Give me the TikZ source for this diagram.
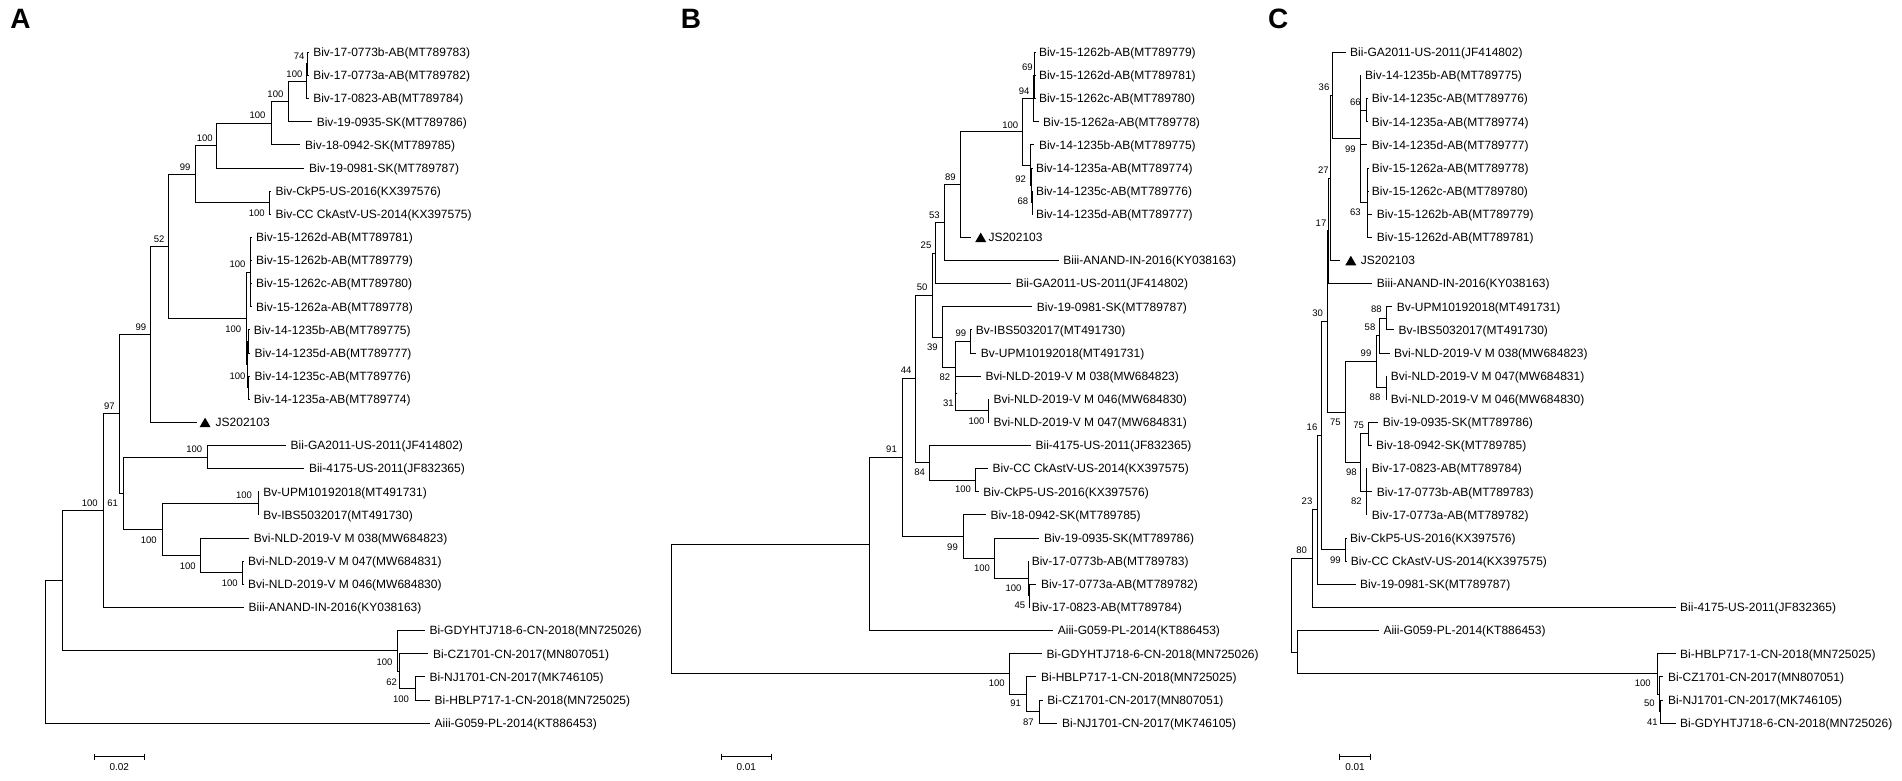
\documentclass[tikz,border=0pt]{standalone}
\usepackage{fontspec}
\setmainfont{Liberation Sans}
\usetikzlibrary{shapes.geometric}
\newcommand\tleaf[5]{\coordinate (#1) at (#2,#3); \node[lf] (#1t) at (#4,#3) {#5};}
\newcommand\tnode[3]{\coordinate (#1) at (#2,#3);}
\newcommand\tkids[2]{\foreach \kid in {#2}{\draw[br] (#1) |- (\kid);}}
\newcommand\bval[4]{\node[bsl] (#1) at (#2,#3) {#4};}
\tikzset{
 br/.style={line width=1pt, black},
 lf/.style={anchor=west, inner sep=0pt, font=\fontsize{12}{12}\selectfont, text height=8.6pt, text depth=0pt},
 bsl/.style={inner sep=0pt, font=\fontsize{9.5}{9.5}\selectfont, text height=6.8pt, text depth=0pt},
 sbl/.style={inner sep=0pt, font=\fontsize{10}{10}\selectfont, text height=7.2pt, text depth=0pt},
 tri/.style={regular polygon, regular polygon sides=3, fill=black, inner sep=0pt, minimum size=12.7pt},
 plet/.style={inner sep=0pt, font=\fontsize{28}{28}\selectfont\bfseries},
 sbar/.style={line width=1pt}
}
\begin{document}
\begin{tikzpicture}[x=1pt,y=-1pt]
\fill[white] (0,0) rectangle (1902,781);
\useasboundingbox (0,0) rectangle (1902,781);

% ================= PANEL A =================
\node[plet] (LA) at (20.6,19.3) {A};
\tleaf{a0}{308.6}{52.3}{313.1}{Biv-17-0773b-AB(MT789783)}
\tleaf{a1}{308.6}{75.4}{313.1}{Biv-17-0773a-AB(MT789782)}
\tleaf{a2}{308.6}{98.6}{313.1}{Biv-17-0823-AB(MT789784)}
\tleaf{a3}{312.1}{121.7}{316.6}{Biv-19-0935-SK(MT789786)}
\tleaf{a4}{300.4}{144.8}{304.9}{Biv-18-0942-SK(MT789785)}
\tleaf{a5}{304.3}{168.0}{308.8}{Biv-19-0981-SK(MT789787)}
\tleaf{a6}{270.9}{191.1}{275.4}{Biv-CkP5-US-2016(KX397576)}
\tleaf{a7}{270.9}{214.2}{275.4}{Biv-CC CkAstV-US-2014(KX397575)}
\tleaf{a8}{252.0}{237.3}{255.9}{Biv-15-1262d-AB(MT789781)}
\tleaf{a9}{252.0}{260.5}{255.9}{Biv-15-1262b-AB(MT789779)}
\tleaf{a10}{252.0}{283.6}{255.9}{Biv-15-1262c-AB(MT789780)}
\tleaf{a11}{252.0}{306.7}{255.9}{Biv-15-1262a-AB(MT789778)}
\tleaf{a12}{249.6}{329.9}{253.7}{Biv-14-1235b-AB(MT789775)}
\tleaf{a13}{250.0}{353.0}{254.5}{Biv-14-1235d-AB(MT789777)}
\tleaf{a14}{250.0}{376.1}{254.5}{Biv-14-1235c-AB(MT789776)}
\tleaf{a15}{249.6}{399.3}{253.7}{Biv-14-1235a-AB(MT789774)}
\coordinate (a16) at (197.3,422.4);
\node[tri] (a16m) at (205.1,424.0) {};
\node[lf] (a16t) at (215.5,422.4) {JS202103};
\tleaf{a17}{286.0}{445.5}{290.5}{Bii-GA2011-US-2011(JF414802)}
\tleaf{a18}{304.3}{468.6}{308.8}{Bii-4175-US-2011(JF832365)}
\tleaf{a19}{259.2}{491.8}{263.2}{Bv-UPM10192018(MT491731)}
\tleaf{a20}{259.2}{514.9}{263.2}{Bv-IBS5032017(MT491730)}
\tleaf{a21}{249.2}{538.0}{253.7}{Bvi-NLD-2019-V M 038(MW684823)}
\tleaf{a22}{244.0}{561.2}{248.0}{Bvi-NLD-2019-V M 047(MW684831)}
\tleaf{a23}{244.0}{584.3}{248.0}{Bvi-NLD-2019-V M 046(MW684830)}
\tleaf{a24}{244.0}{607.4}{248.5}{Biii-ANAND-IN-2016(KY038163)}
\tleaf{a25}{424.8}{630.6}{429.3}{Bi-GDYHTJ718-6-CN-2018(MN725026)}
\tleaf{a26}{428.3}{653.7}{432.8}{Bi-CZ1701-CN-2017(MN807051)}
\tleaf{a27}{424.8}{676.8}{429.3}{Bi-NJ1701-CN-2017(MK746105)}
\tleaf{a28}{430.0}{700.0}{434.5}{Bi-HBLP717-1-CN-2018(MN725025)}
\tleaf{a29}{430.0}{723.1}{434.5}{Aiii-G059-PL-2014(KT886453)}

\tnode{n74}{307.5}{63.9}
\tnode{nA100a}{306.5}{81.3}
\tnode{nA100b}{288.4}{101.5}
\tnode{nA100c}{271.0}{123.2}
\tnode{nA100d}{216.8}{145.6}
\tnode{nA100e}{269.7}{202.65}
\tnode{nA99a}{195.6}{174.1}
\tnode{nA15}{250.7}{272.0}
\tnode{nA14ab}{248.5}{341.45}
\tnode{nA14cd}{248.5}{387.7}
\tnode{nA14}{247.5}{364.6}
\tnode{nA1415}{246.3}{318.3}
\tnode{nA52}{168.3}{246.2}
\tnode{nA99b}{150.9}{334.3}
\tnode{nABii}{207.3}{457.05}
\tnode{nABv}{258.0}{503.35}
\tnode{nABvi2}{242.8}{572.75}
\tnode{nABvi}{200.8}{555.4}
\tnode{nABvBvi}{162.6}{529.4}
\tnode{nA61}{123.6}{493.2}
\tnode{nA97}{119.3}{413.75}
\tnode{nA100r}{103.2}{510.6}
\tnode{nANJH}{415.4}{688.4}
\tnode{nA62}{399.0}{671.05}
\tnode{nABi}{397.7}{650.8}
\tnode{nA100s}{62.9}{580.7}
\tnode{nArootA}{45.5}{651.9}

\tkids{n74}{a0,a1}
\tkids{nA100a}{n74,a2}
\tkids{nA100b}{nA100a,a3}
\tkids{nA100c}{nA100b,a4}
\tkids{nA100d}{nA100c,a5}
\tkids{nA100e}{a6,a7}
\tkids{nA99a}{nA100d,nA100e}
\tkids{nA15}{a8,a9,a10,a11}
\tkids{nA14ab}{a12,a13}
\tkids{nA14cd}{a14,a15}
\tkids{nA14}{nA14ab,nA14cd}
\tkids{nA1415}{nA15,nA14}
\tkids{nA52}{nA99a,nA1415}
\tkids{nA99b}{nA52,a16}
\tkids{nABii}{a17,a18}
\tkids{nABv}{a19,a20}
\tkids{nABvi2}{a22,a23}
\tkids{nABvi}{a21,nABvi2}
\tkids{nABvBvi}{nABv,nABvi}
\tkids{nA61}{nABii,nABvBvi}
\tkids{nA97}{nA99b,nA61}
\tkids{nA100r}{nA97,a24}
\tkids{nANJH}{a27,a28}
\tkids{nA62}{a26,nANJH}
\tkids{nABi}{a25,nA62}
\tkids{nA100s}{nA100r,nABi}
\tkids{nArootA}{nA100s,a29}

\bval{lA1}{299.2}{56.0}{74}
\bval{lA2}{294.4}{74.0}{100}
\bval{lA3}{275.4}{94.0}{100}
\bval{lA4}{257.6}{115.0}{100}
\bval{lA5}{204.7}{137.7}{100}
\bval{lA6}{185.2}{166.7}{99}
\bval{lA7}{256.7}{213.0}{100}
\bval{lA8}{159.2}{239.0}{52}
\bval{lA9}{237.6}{264.0}{100}
\bval{lA10}{233.3}{329.0}{100}
\bval{lA11}{237.6}{375.7}{100}
\bval{lA12}{140.9}{326.7}{99}
\bval{lA13}{109.3}{405.7}{97}
\bval{lA14}{194.3}{449.3}{100}
\bval{lA15}{244.1}{495.3}{100}
\bval{lA16}{148.7}{540.0}{100}
\bval{lA17}{187.8}{565.7}{100}
\bval{lA18}{229.8}{583.3}{100}
\bval{lA19}{112.7}{503.3}{61}
\bval{lA20}{89.8}{502.7}{100}
\bval{lA21}{384.6}{661.7}{100}
\bval{lA22}{391.6}{681.7}{62}
\bval{lA23}{401.1}{699.0}{100}

\coordinate (sA1) at (94.1,756.7);
\coordinate (sA2) at (144.4,756.7);
\draw[sbar] (sA1) -- (sA2);
\draw[sbar] ([yshift=3pt]sA1) -- ([yshift=-3pt]sA1);
\draw[sbar] ([yshift=3pt]sA2) -- ([yshift=-3pt]sA2);
\node[sbl] (sAl) at (119.3,767.3) {0.02};

% ================= PANEL B =================
\node[plet] (LB) at (691.0,19.3) {B};
\tleaf{b0}{1035.3}{52.3}{1038.8}{Biv-15-1262b-AB(MT789779)}
\tleaf{b1}{1035.3}{75.4}{1038.8}{Biv-15-1262d-AB(MT789781)}
\tleaf{b2}{1035.3}{98.6}{1038.8}{Biv-15-1262c-AB(MT789780)}
\tleaf{b3}{1038.5}{121.7}{1043.0}{Biv-15-1262a-AB(MT789778)}
\tleaf{b4}{1034.3}{144.8}{1038.8}{Biv-14-1235b-AB(MT789775)}
\tleaf{b5}{1032.5}{168.0}{1035.8}{Biv-14-1235a-AB(MT789774)}
\tleaf{b6}{1032.8}{191.1}{1035.8}{Biv-14-1235c-AB(MT789776)}
\tleaf{b7}{1032.8}{214.2}{1035.8}{Biv-14-1235d-AB(MT789777)}
\coordinate (b8) at (971.4,237.3);
\node[tri] (b8m) at (980.7,238.9) {};
\node[lf] (b8t) at (988.3,237.3) {JS202103};
\tleaf{b9}{1058.7}{260.5}{1063.2}{Biii-ANAND-IN-2016(KY038163)}
\tleaf{b10}{1011.1}{283.6}{1015.6}{Bii-GA2011-US-2011(JF414802)}
\tleaf{b11}{1032.2}{306.7}{1036.7}{Biv-19-0981-SK(MT789787)}
\tleaf{b12}{971.6}{329.9}{975.7}{Bv-IBS5032017(MT491730)}
\tleaf{b13}{976.2}{353.0}{980.7}{Bv-UPM10192018(MT491731)}
\tleaf{b14}{980.8}{376.1}{985.3}{Bvi-NLD-2019-V M 038(MW684823)}
\tleaf{b15}{989.3}{399.3}{993.3}{Bvi-NLD-2019-V M 046(MW684830)}
\tleaf{b16}{989.3}{422.4}{993.3}{Bvi-NLD-2019-V M 047(MW684831)}
\tleaf{b17}{1030.9}{445.5}{1035.4}{Bii-4175-US-2011(JF832365)}
\tleaf{b18}{988.0}{468.6}{992.5}{Biv-CC CkAstV-US-2014(KX397575)}
\tleaf{b19}{978.7}{491.8}{983.2}{Biv-CkP5-US-2016(KX397576)}
\tleaf{b20}{985.9}{514.9}{990.4}{Biv-18-0942-SK(MT789785)}
\tleaf{b21}{1039.3}{538.0}{1043.8}{Biv-19-0935-SK(MT789786)}
\tleaf{b22}{1029.0}{561.2}{1031.6}{Biv-17-0773b-AB(MT789783)}
\tleaf{b23}{1036.4}{584.3}{1040.9}{Biv-17-0773a-AB(MT789782)}
\tleaf{b24}{1029.8}{607.4}{1031.6}{Biv-17-0823-AB(MT789784)}
\tleaf{b25}{1053.2}{630.6}{1057.7}{Aiii-G059-PL-2014(KT886453)}
\tleaf{b26}{1041.9}{653.7}{1046.4}{Bi-GDYHTJ718-6-CN-2018(MN725026)}
\tleaf{b27}{1036.4}{676.8}{1040.9}{Bi-HBLP717-1-CN-2018(MN725025)}
\tleaf{b28}{1042.7}{700.0}{1047.2}{Bi-CZ1701-CN-2017(MN807051)}
\tleaf{b29}{1057.4}{723.1}{1061.9}{Bi-NJ1701-CN-2017(MK746105)}

\tnode{nB69}{1034.5}{75.4}
\tnode{nB94}{1033.7}{98.55}
\tnode{nB68}{1032.0}{202.65}
\tnode{nB92}{1031.5}{185.3}
\tnode{nB92t}{1030.4}{165.05}
\tnode{nB100}{1022.8}{131.8}
\tnode{nB89}{960.9}{184.55}
\tnode{nB53}{944.9}{222.5}
\tnode{nB25}{935.7}{253.05}
\tnode{nB99v}{970.6}{341.45}
\tnode{nB100vm}{988.3}{410.85}
\tnode{nB31}{955.9}{393.5}
\tnode{nB82}{955.5}{367.45}
\tnode{nB39}{942.0}{337.1}
\tnode{nB50}{932.7}{295.1}
\tnode{nB100ck}{975.7}{480.2}
\tnode{nB84}{929.4}{462.85}
\tnode{nB44}{915.9}{378.95}
\tnode{nB45}{1029.0}{595.85}
\tnode{nB100c}{1028.3}{578.5}
\tnode{nB100s}{994.6}{558.25}
\tnode{nB99s}{963.0}{536.6}
\tnode{nB91}{902.0}{457.8}
\tnode{nB1}{869.6}{544.2}
\tnode{nB87}{1039.6}{711.55}
\tnode{nB91b}{1026.2}{694.2}
\tnode{nBBi}{1009.3}{673.95}
\tnode{nBroot}{671.8}{609.1}

\tkids{nB69}{b0,b1,b2}
\tkids{nB94}{nB69,b3}
\tkids{nB68}{b6,b7}
\tkids{nB92}{b5,nB68}
\tkids{nB92t}{b4,nB92}
\tkids{nB100}{nB94,nB92t}
\tkids{nB89}{nB100,b8}
\tkids{nB53}{nB89,b9}
\tkids{nB25}{nB53,b10}
\tkids{nB99v}{b12,b13}
\tkids{nB100vm}{b15,b16}
\tkids{nB31}{b14,nB100vm}
\tkids{nB82}{nB99v,nB31}
\tkids{nB39}{b11,nB82}
\tkids{nB50}{nB25,nB39}
\tkids{nB100ck}{b18,b19}
\tkids{nB84}{b17,nB100ck}
\tkids{nB44}{nB50,nB84}
\tkids{nB45}{b23,b24}
\tkids{nB100c}{b22,nB45}
\tkids{nB100s}{b21,nB100c}
\tkids{nB99s}{b20,nB100s}
\tkids{nB91}{nB44,nB99s}
\tkids{nB1}{nB91,b25}
\tkids{nB87}{b28,b29}
\tkids{nB91b}{b27,nB87}
\tkids{nBBi}{b26,nB91b}
\tkids{nBroot}{nB1,nBBi}

\bval{lB1}{1027.4}{66.7}{69}
\bval{lB2}{1024.1}{90.7}{94}
\bval{lB3}{1010.2}{125.0}{100}
\bval{lB4}{1020.7}{179.0}{92}
\bval{lB5}{1022.8}{201.0}{68}
\bval{lB6}{950.4}{177.3}{89}
\bval{lB7}{934.4}{215.0}{53}
\bval{lB8}{926.0}{245.0}{25}
\bval{lB9}{922.2}{286.7}{50}
\bval{lB10}{932.3}{346.7}{39}
\bval{lB11}{960.9}{332.7}{99}
\bval{lB12}{944.9}{376.7}{82}
\bval{lB13}{948.3}{402.7}{31}
\bval{lB14}{976.5}{420.7}{100}
\bval{lB15}{906.2}{370.0}{44}
\bval{lB16}{919.7}{471.7}{84}
\bval{lB17}{963.0}{489.3}{100}
\bval{lB18}{891.5}{449.0}{91}
\bval{lB19}{952.5}{546.7}{99}
\bval{lB20}{982.0}{567.7}{100}
\bval{lB21}{1013.5}{587.7}{100}
\bval{lB22}{1019.8}{605.0}{45}
\bval{lB23}{996.7}{683.3}{100}
\bval{lB24}{1015.6}{703.3}{91}
\bval{lB25}{1028.3}{721.7}{87}

\coordinate (sB1) at (721.0,756.7);
\coordinate (sB2) at (771.5,756.7);
\draw[sbar] (sB1) -- (sB2);
\draw[sbar] ([yshift=3pt]sB1) -- ([yshift=-3pt]sB1);
\draw[sbar] ([yshift=3pt]sB2) -- ([yshift=-3pt]sB2);
\node[sbl] (sBl) at (746.3,767.3) {0.01};

% ================= PANEL C =================
\node[plet] (LC) at (1278.3,19.3) {C};
\tleaf{c0}{1346.0}{52.3}{1350.0}{Bii-GA2011-US-2011(JF414802)}
\tleaf{c1}{1361.0}{75.4}{1365.0}{Biv-14-1235b-AB(MT789775)}
\tleaf{c2}{1367.5}{98.6}{1371.7}{Biv-14-1235c-AB(MT789776)}
\tleaf{c3}{1367.5}{121.7}{1371.7}{Biv-14-1235a-AB(MT789774)}
\tleaf{c4}{1367.3}{144.8}{1371.7}{Biv-14-1235d-AB(MT789777)}
\tleaf{c5}{1368.5}{168.0}{1371.7}{Biv-15-1262a-AB(MT789778)}
\tleaf{c6}{1368.5}{191.1}{1371.7}{Biv-15-1262c-AB(MT789780)}
\tleaf{c7}{1372.2}{214.2}{1376.7}{Biv-15-1262b-AB(MT789779)}
\tleaf{c8}{1372.2}{237.3}{1376.7}{Biv-15-1262d-AB(MT789781)}
\coordinate (c9) at (1340.0,260.5);
\node[tri] (c9m) at (1350.8,262.1) {};
\node[lf] (c9t) at (1360.7,260.5) {JS202103};
\tleaf{c10}{1372.2}{283.6}{1376.7}{Biii-ANAND-IN-2016(KY038163)}
\tleaf{c11}{1392.2}{306.7}{1396.7}{Bv-UPM10192018(MT491731)}
\tleaf{c12}{1393.8}{329.9}{1398.3}{Bv-IBS5032017(MT491730)}
\tleaf{c13}{1389.5}{353.0}{1394.0}{Bvi-NLD-2019-V M 038(MW684823)}
\tleaf{c14}{1387.0}{376.1}{1390.7}{Bvi-NLD-2019-V M 047(MW684831)}
\tleaf{c15}{1387.0}{399.3}{1390.7}{Bvi-NLD-2019-V M 046(MW684830)}
\tleaf{c16}{1378.2}{422.4}{1382.7}{Biv-19-0935-SK(MT789786)}
\tleaf{c17}{1371.5}{445.5}{1376.0}{Biv-18-0942-SK(MT789785)}
\tleaf{c18}{1367.2}{468.6}{1371.7}{Biv-17-0823-AB(MT789784)}
\tleaf{c19}{1372.2}{491.8}{1376.7}{Biv-17-0773b-AB(MT789783)}
\tleaf{c20}{1367.2}{514.9}{1371.7}{Biv-17-0773a-AB(MT789782)}
\tleaf{c21}{1346.5}{538.0}{1350.0}{Biv-CkP5-US-2016(KX397576)}
\tleaf{c22}{1346.5}{561.2}{1350.7}{Biv-CC CkAstV-US-2014(KX397575)}
\tleaf{c23}{1355.5}{584.3}{1360.0}{Biv-19-0981-SK(MT789787)}
\tleaf{c24}{1675.5}{607.4}{1680.0}{Bii-4175-US-2011(JF832365)}
\tleaf{c25}{1378.8}{630.6}{1383.3}{Aiii-G059-PL-2014(KT886453)}
\tleaf{c26}{1675.5}{653.7}{1680.0}{Bi-HBLP717-1-CN-2018(MN725025)}
\tleaf{c27}{1663.3}{676.8}{1667.8}{Bi-CZ1701-CN-2017(MN807051)}
\tleaf{c28}{1663.3}{700.0}{1667.8}{Bi-NJ1701-CN-2017(MK746105)}
\tleaf{c29}{1675.5}{723.1}{1680.0}{Bi-GDYHTJ718-6-CN-2018(MN725026)}

\tnode{nC66}{1366.0}{110.15}
\tnode{nC63}{1367.7}{202.5}
\tnode{nC99}{1360.0}{138.95}
\tnode{nC36}{1332.3}{95.6}
\tnode{nC27}{1330.0}{178.05}
\tnode{nC17}{1328.5}{230.8}
\tnode{nC88a}{1386.7}{318.3}
\tnode{nC58}{1379.3}{335.65}
\tnode{nC88b}{1386.0}{387.7}
\tnode{nCB99}{1376.0}{361.7}
\tnode{nC75s}{1368.3}{433.95}
\tnode{nC82}{1366.0}{491.8}
\tnode{nC98}{1360.7}{462.9}
\tnode{nC75}{1345.0}{412.3}
\tnode{nC30}{1327.3}{321.55}
\tnode{nCck}{1345.3}{549.6}
\tnode{nC16}{1321.7}{435.6}
\tnode{nC23}{1317.7}{509.95}
\tnode{nC80}{1312.3}{558.7}
\tnode{nC41}{1660.8}{711.55}
\tnode{nC50}{1659.7}{694.2}
\tnode{nCBi}{1657.0}{673.95}
\tnode{nCX}{1297.3}{652.3}
\tnode{nCroot}{1291.7}{605.5}

\tkids{nC66}{c2,c3}
\tkids{nC63}{c5,c6,c7,c8}
\tkids{nC99}{c1,nC66,c4,nC63}
\tkids{nC36}{c0,nC99}
\tkids{nC27}{nC36,c9}
\tkids{nC17}{nC27,c10}
\tkids{nC88a}{c11,c12}
\tkids{nC58}{nC88a,c13}
\tkids{nC88b}{c14,c15}
\tkids{nCB99}{nC58,nC88b}
\tkids{nC75s}{c16,c17}
\tkids{nC82}{c18,c19,c20}
\tkids{nC98}{nC75s,nC82}
\tkids{nC75}{nCB99,nC98}
\tkids{nC30}{nC17,nC75}
\tkids{nCck}{c21,c22}
\tkids{nC16}{nC30,nCck}
\tkids{nC23}{nC16,c23}
\tkids{nC80}{nC23,c24}
\tkids{nC41}{c28,c29}
\tkids{nC50}{c27,nC41}
\tkids{nCBi}{c26,nC50}
\tkids{nCX}{c25,nCBi}
\tkids{nCroot}{nC80,nCX}

\bval{lC1}{1324.0}{87.3}{36}
\bval{lC2}{1355.3}{101.7}{66}
\bval{lC3}{1350.3}{149.0}{99}
\bval{lC4}{1355.3}{212.3}{63}
\bval{lC5}{1323.3}{170.0}{27}
\bval{lC6}{1321.0}{222.7}{17}
\bval{lC7}{1317.7}{312.7}{30}
\bval{lC8}{1376.3}{309.3}{88}
\bval{lC9}{1370.0}{327.3}{58}
\bval{lC10}{1366.0}{353.3}{99}
\bval{lC11}{1375.0}{396.7}{88}
\bval{lC12}{1335.3}{421.7}{75}
\bval{lC13}{1358.7}{425.0}{75}
\bval{lC14}{1351.3}{471.7}{98}
\bval{lC15}{1356.3}{500.7}{82}
\bval{lC16}{1312.0}{426.7}{16}
\bval{lC17}{1335.3}{560.0}{99}
\bval{lC18}{1307.0}{500.7}{23}
\bval{lC19}{1301.7}{550.0}{80}
\bval{lC20}{1642.8}{683.3}{100}
\bval{lC21}{1649.3}{703.3}{50}
\bval{lC22}{1652.4}{721.7}{41}

\coordinate (sC1) at (1339.3,756.7);
\coordinate (sC2) at (1370.0,756.7);
\draw[sbar] (sC1) -- (sC2);
\draw[sbar] ([yshift=3pt]sC1) -- ([yshift=-3pt]sC1);
\draw[sbar] ([yshift=3pt]sC2) -- ([yshift=-3pt]sC2);
\node[sbl] (sCl) at (1355.0,766.7) {0.01};
\end{tikzpicture}
\end{document}
